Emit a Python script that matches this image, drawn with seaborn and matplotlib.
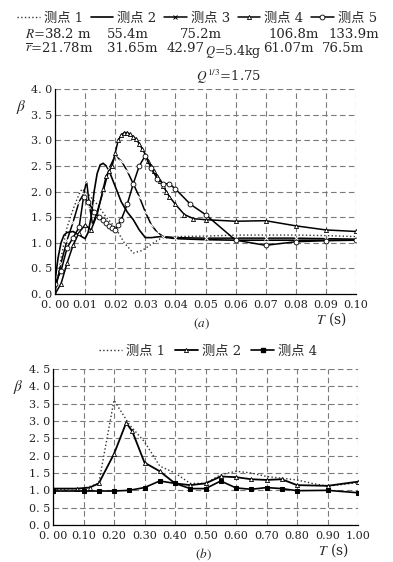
import numpy as np
import pandas as pd
import matplotlib
matplotlib.use("Agg")
import matplotlib.pyplot as plt
from matplotlib.lines import Line2D
import seaborn as sns

# ---------------- data: panel (a) ----------------
T1a = [0, 0.002, 0.004, 0.006, 0.008, 0.009, 0.011, 0.014, 0.017, 0.020, 0.023, 0.026, 0.029, 0.032,
       0.035, 0.040, 0.050, 0.060, 0.070, 0.080, 0.090, 0.100]
B1a = [0.0, 0.7, 1.3, 1.65, 1.95, 2.05, 1.95, 1.75, 1.5, 1.3, 1.0, 0.8, 0.85, 0.97,
       1.08, 1.12, 1.13, 1.15, 1.15, 1.15, 1.14, 1.12]

T2a = [0, 0.001, 0.002, 0.003, 0.004, 0.006, 0.008, 0.010, 0.011, 0.012, 0.013, 0.014, 0.015, 0.016,
       0.017, 0.018, 0.020, 0.022, 0.024, 0.026, 0.028, 0.030, 0.032, 0.035, 0.040, 0.050, 0.060,
       0.070, 0.080, 0.090, 0.100]
B2a = [0.25, 0.7, 1.0, 1.15, 1.2, 1.22, 1.15, 1.08, 1.2, 1.5, 2.0, 2.35, 2.52, 2.55,
       2.5, 2.4, 2.1, 1.8, 1.6, 1.45, 1.25, 1.1, 1.1, 1.12, 1.08, 1.06, 1.05,
       1.05, 1.05, 1.05, 1.05]

T3a = [0, 0.002, 0.004, 0.006, 0.008, 0.0095, 0.0105, 0.0115, 0.0125, 0.014, 0.016, 0.018, 0.020,
       0.022, 0.024, 0.026, 0.028, 0.030, 0.032, 0.034, 0.036, 0.040, 0.050, 0.060, 0.070, 0.080,
       0.090, 0.100]
B3a = [0.05, 0.6, 1.05, 1.4, 1.8, 1.95, 2.2, 1.7, 1.35, 1.6, 2.0, 2.45, 2.7,
       2.6, 2.4, 2.15, 1.9, 1.6, 1.35, 1.2, 1.12, 1.1, 1.09, 1.09, 1.09, 1.09,
       1.08, 1.07]

T4a = [0, 0.002, 0.004, 0.006, 0.008, 0.010, 0.012, 0.014, 0.016, 0.017, 0.018, 0.019, 0.020, 0.021,
       0.022, 0.023, 0.024, 0.025, 0.026, 0.027, 0.028, 0.029, 0.030, 0.031, 0.032, 0.033, 0.034,
       0.035, 0.036, 0.037, 0.038, 0.040, 0.043, 0.046, 0.050, 0.060, 0.070, 0.080, 0.090, 0.100]
B4a = [0.0, 0.2, 0.6, 0.95, 1.2, 1.35, 1.25, 1.55, 2.05, 2.3, 2.4, 2.5, 2.75, 3.0,
       3.1, 3.15, 3.15, 3.12, 3.07, 3.02, 2.93, 2.83, 2.72, 2.6, 2.5, 2.4, 2.3,
       2.2, 2.1, 2.0, 1.9, 1.75, 1.55, 1.47, 1.45, 1.42, 1.43, 1.33, 1.25, 1.22]

T5a = [0, 0.002, 0.004, 0.006, 0.008, 0.0095, 0.011, 0.013, 0.0145, 0.016, 0.017, 0.018, 0.019,
       0.020, 0.021, 0.022, 0.024, 0.026, 0.028, 0.030, 0.032, 0.034, 0.036, 0.038, 0.040, 0.045,
       0.050, 0.060, 0.070, 0.080, 0.090, 0.100]
B5a = [0.2, 0.45, 0.9, 1.1, 1.3, 1.9, 1.8, 1.6, 1.5, 1.45, 1.38, 1.33, 1.28,
       1.25, 1.35, 1.45, 1.75, 2.15, 2.5, 2.7, 2.45, 2.25, 2.15, 2.15, 2.05, 1.75,
       1.55, 1.05, 0.95, 1.02, 1.04, 1.05]

# ---------------- data: panel (b) ----------------
T1b = [0, 0.08, 0.10, 0.15, 0.20, 0.25, 0.30, 0.35, 0.40, 0.45, 0.50, 0.55, 0.60, 0.65, 0.70,
       0.75, 0.80, 0.85, 0.90, 1.00]
B1b = [1.02, 1.05, 1.05, 1.2, 3.6, 2.9, 2.4, 1.7, 1.5, 1.2, 1.2, 1.45, 1.55, 1.5, 1.4,
       1.35, 1.3, 1.2, 1.12, 1.22]

T2b = [0, 0.08, 0.12, 0.15, 0.20, 0.24, 0.26, 0.30, 0.35, 0.40, 0.45, 0.50, 0.55, 0.60, 0.65,
       0.70, 0.75, 0.80, 0.90, 1.00]
B2b = [1.05, 1.05, 1.08, 1.2, 2.05, 2.95, 2.7, 1.8, 1.55, 1.2, 1.15, 1.2, 1.4, 1.38, 1.32,
       1.3, 1.32, 1.15, 1.13, 1.25]

T4b = [0, 0.10, 0.15, 0.20, 0.25, 0.30, 0.35, 0.40, 0.45, 0.50, 0.55, 0.60, 0.65, 0.70, 0.75,
       0.80, 0.90, 1.00]
B4b = [0.98, 0.98, 0.98, 0.98, 1.0, 1.08, 1.27, 1.2, 1.05, 1.05, 1.27, 1.07, 1.03, 1.08, 1.05,
       0.99, 1.0, 0.93]

xticks_a = [0.00, 0.01, 0.02, 0.03, 0.04, 0.05, 0.06, 0.07, 0.08, 0.09, 0.10]
xlabels_a = ["0. 00", "0.01", "0.02", "0.03", "0.04", "0.05", "0.06", "0.07", "0.08", "0.09", "0.10"]
yticks_a = [0.0, 0.5, 1.0, 1.5, 2.0, 2.5, 3.0, 3.5, 4.0]
xticks_b = [0.0, 0.1, 0.2, 0.3, 0.4, 0.5, 0.6, 0.7, 0.8, 0.9, 1.0]
xlabels_b = ["0. 00", "0.10", "0.20", "0.30", "0.40", "0.50", "0.60", "0.70", "0.80", "0.90", "1.00"]
yticks_b = [0.0, 0.5, 1.0, 1.5, 2.0, 2.5, 3.0, 3.5, 4.0, 4.5]

labels_a = ["测点 1", "测点 2", "测点 3", "测点 4", "测点 5"]
labels_b = ["测点 1", "测点 2", "测点 4"]

# ---------------- style ----------------
sns.set_style("white")
plt.rcParams["font.family"] = ["DejaVu Serif", "Noto Sans CJK SC", "DejaVu Sans"]
plt.rcParams["mathtext.fontset"] = "stix"

W, H = 393, 562
fig = plt.figure(figsize=(W / 100, H / 100), dpi=100)

def px_ax(l, t, r, b):
    return fig.add_axes([l / W, 1 - b / H, (r - l) / W, (b - t) / H])

ax1 = px_ax(55, 89, 356, 294)
ax2 = px_ax(53, 369, 358, 525)

K = "black"
styles_a = [
    dict(linestyle=":", linewidth=1.0, color="#333333"),
    dict(linestyle="-", linewidth=1.2, color=K),
    dict(linestyle="-", linewidth=1.1, color=K, marker="x", markersize=2.5, markeredgewidth=0.7),
    dict(linestyle="-", linewidth=1.1, color=K, marker="^", markersize=3.0, markerfacecolor="white",
         markeredgecolor=K, markeredgewidth=0.6),
    dict(linestyle="-", linewidth=1.1, color=K, marker="o", markersize=3.5, markerfacecolor="white",
         markeredgecolor=K, markeredgewidth=0.6),
]
series_a = [(T1a, B1a), (T2a, B2a), (T3a, B3a), (T4a, B4a), (T5a, B5a)]
for (tx, by), st in zip(series_a, styles_a):
    sns.lineplot(x=tx, y=by, ax=ax1, sort=False, estimator=None, legend=False, **st)

styles_b = [
    dict(linestyle=":", linewidth=1.0, color="#333333"),
    dict(linestyle="-", linewidth=1.3, color=K, marker="^", markersize=3.0, markerfacecolor="white",
         markeredgecolor=K, markeredgewidth=0.6),
    dict(linestyle="-", linewidth=1.2, color=K, marker="s", markersize=3.0, markerfacecolor=K,
         markeredgecolor=K),
]
series_b = [(T1b, B1b), (T2b, B2b), (T4b, B4b)]
for (tx, by), st in zip(series_b, styles_b):
    sns.lineplot(x=tx, y=by, ax=ax2, sort=False, estimator=None, legend=False, **st)

def style_axes(ax, xt, xl, yt, xlim, ylim):
    ax.set_xlim(*xlim)
    ax.set_ylim(*ylim)
    ax.set_xticks(xt)
    ax.set_xticklabels(xl)
    ax.set_yticks(yt)
    ax.set_yticklabels([f"{v:.1f}".replace(".", ". ") for v in yt])
    ax.grid(True, linestyle=(0, (5, 3)), color="#7a7a7a", linewidth=0.8)
    ax.set_axisbelow(True)
    for s in ["top", "right"]:
        ax.spines[s].set_visible(False)
    for s in ["left", "bottom"]:
        ax.spines[s].set_color(K)
        ax.spines[s].set_linewidth(0.9)
    ax.tick_params(axis="both", length=0, labelsize=8, colors="#222222")
    ax.tick_params(axis="x", pad=4)
    ax.tick_params(axis="y", pad=2)
    ax.set_xlabel("")
    ax.set_ylabel("")

style_axes(ax1, xticks_a, xlabels_a, yticks_a, (0, 0.1), (0, 4.0))
style_axes(ax2, xticks_b, xlabels_b, yticks_b, (0, 1.0), (0, 4.5))

# axis labels
fig.text(21 / W, 1 - 107 / H, r"$\beta$", fontsize=11, ha="center", va="center")
fig.text(18 / W, 1 - 387 / H, r"$\beta$", fontsize=11, ha="center", va="center")
fig.text(331 / W, 1 - 319 / H, r"$T$ (s)", fontsize=10, ha="center", va="center")
fig.text(333 / W, 1 - 550 / H, r"$T$ (s)", fontsize=10, ha="center", va="center")
fig.text(201 / W, 1 - 324 / H, r"$(a)$", fontsize=9.5, ha="center", va="center")
fig.text(203 / W, 1 - 554 / H, r"$(b)$", fontsize=9.5, ha="center", va="center")

# header texts of panel (a)
hdr = dict(fontsize=9.5, ha="left", va="center")
yR = 1 - 34 / H
yr = 1 - 48 / H
fig.text(25 / W, yR, r"$R$=38.2 m", **hdr)
fig.text(107 / W, yR, "55.4m", **hdr)
fig.text(180 / W, yR, "75.2m", **hdr)
fig.text(268 / W, yR, "106.8m", **hdr)
fig.text(328 / W, yR, "133.9m", **hdr)
fig.text(25 / W, yr, r"$\overline{r}$=21.78m", **hdr)
fig.text(107 / W, yr, "31.65m", **hdr)
fig.text(167 / W, yr, "42.97", **hdr)
fig.text(205 / W, 1 - 52 / H, r"$Q$=5.4kg", fontsize=9, ha="left", va="center")
fig.text(263 / W, yr, "61.07m", **hdr)
fig.text(322 / W, yr, "76.5m", **hdr)
fig.text(196 / W, 1 - 77 / H, r"$Q^{1/3}$=1.75", **hdr)

# legends
def handle(st):
    return Line2D([], [], **st)

leg_a = fig.legend([handle(s) for s in styles_a], labels_a, loc="center",
                   bbox_to_anchor=(197 / W, 1 - 18 / H), ncol=5, frameon=False,
                   handlelength=1.7, handletextpad=0.3, columnspacing=0.6, fontsize=9.5,
                   borderaxespad=0, borderpad=0)
leg_b = fig.legend([handle(s) for s in styles_b], labels_b, loc="center",
                   bbox_to_anchor=(208 / W, 1 - 351 / H), ncol=3, frameon=False,
                   handlelength=1.7, handletextpad=0.3, columnspacing=0.8, fontsize=9.5,
                   borderaxespad=0, borderpad=0)

fig.savefig("out.png", dpi=100)
